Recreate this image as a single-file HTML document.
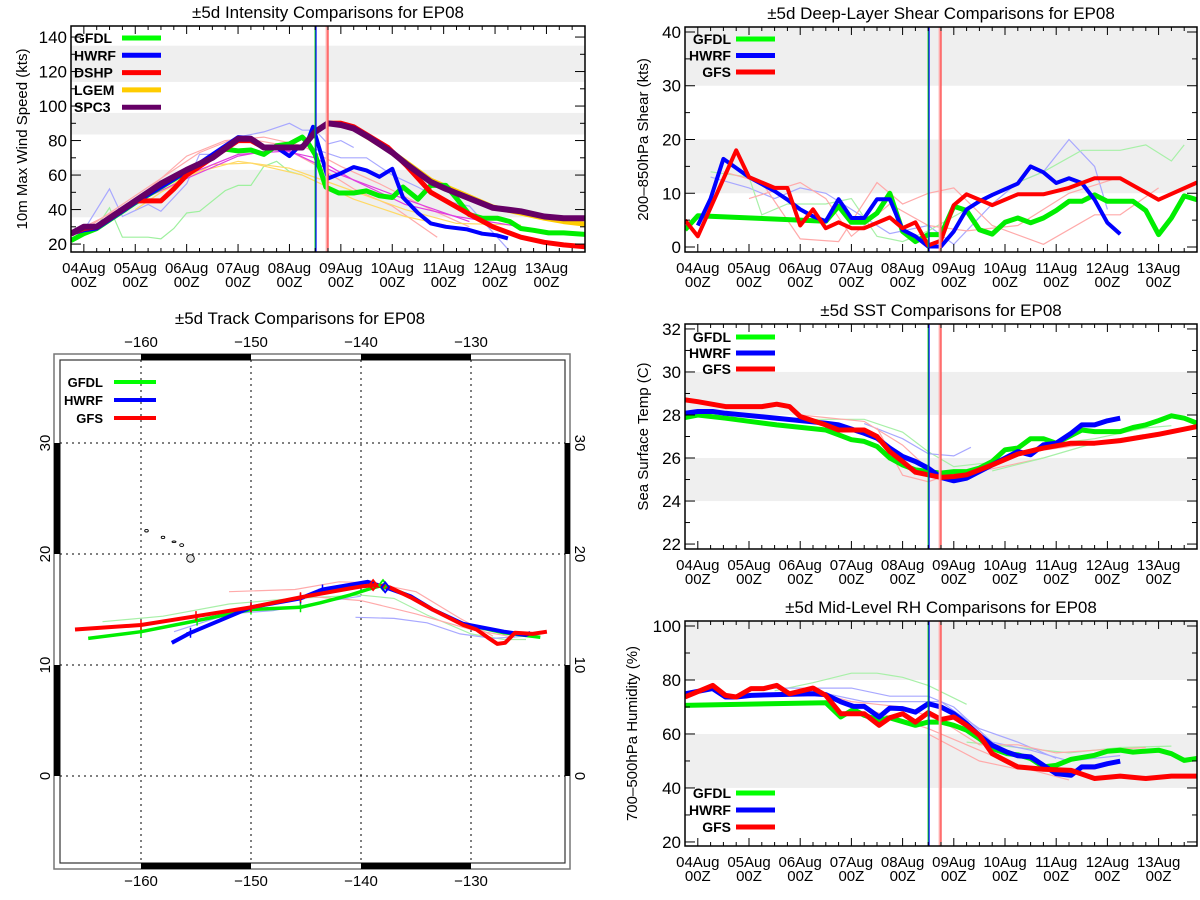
<!DOCTYPE html>
<html><head><meta charset="utf-8"><title>EP08 ±5d comparisons</title>
<style>
html,body{margin:0;padding:0;background:#fff;}
svg{display:block;font-family:"Liberation Sans",sans-serif;}
</style></head>
<body>
<svg id="fig" width="1200" height="900" viewBox="0 0 1200 900" xmlns="http://www.w3.org/2000/svg"></svg>
<script>
// ===== Intensity data (hours from 04Aug 00Z, knots) =====
const spc3Hours=[-6,0,6,24,36,48,60,72,78,84,90,102,108,114,120,126,133,144,151,162,169,179,191,204,215,224,234];
const spc3Vals=[26,30,30,45,55,63,70,81,81,76,76,76,85,90,89,87,82,73,66,56,52,47,41,39,36,35,35];
const dshpHours=[-6,0,6,24,30,36,42,48,60,72,78,84,90,102,108,114,120,126,142,151,162,179,191,204,215,224,234];
const dshpVals=[26,29,30,45,45,45,52,60,70,80,80,76,76,76,85,90,90,88,76,65,50,38,30,24,21,19.5,18.5];
const lgemHours=[108,114,120,126,144,151,162,179,191,204,215,224,234];
const lgemVals=[85,90,90,87,73,67,57,48,41.5,38,35,33,31.5];
const gfdlIntHours=[-6,0,6,24,48,66,72,78,84,90,96,102,105,108,113,119,126,132,138,144,149,156,162,169,175,180,186,193,199,204,210,217,224,234];
const gfdlIntVals=[22,26,29,44,62,75,74,74.5,72,77,78,82,78,72,53,49.6,49.6,50.8,48,47,53,46,54,54,45,37,35,35,33,29,28,26.5,26.5,25.6];
const hwrfIntHours=[-6,0,6,24,48,72,78,84,90,96,100,104,107,111,114,120,126,132,138,144,149,156,162,169,179,186,193,198];
const hwrfIntVals=[26,28,29,44,62,82,81.5,76,76,71,76,78,88,71,58,61,64.6,62.7,59,63.6,47,38,32,30,28.5,26,25,23.3];
const intFaint=[
 {c:"#9ef09e",h:[-6,6,12,18,30,36,42,48,54,66,72,78,84,90,96,102],v:[22,30,41,24,24,23,29,38,39,51,54,54,65,68,62,60]},
 {c:"#a8a8ff",h:[0,12,18,30,36,48,54,60,72,84,96,102,108,114,120,126],v:[28,52,36,43,39,55,72,72,82,85,90,86,86,78,80,76]},
 {c:"#a8a8ff",h:[108,120,132,144,156,168,180,198],v:[75,70,70,60,53,45,42,17]},
 {c:"#ffaaaa",h:[-6,24,48,66,84,102,120,138,162,180],v:[26,45,71,80,82,77,65,55,40,30]},
 {c:"#ffaaaa",h:[0,36,54,72,90,108,126,144,165],v:[28,58,73,82,78,66,52,42,24]},
 {c:"#ffd966",h:[24,48,72,96,114,132,150,174,204],v:[40,60,68,64,56,48,40,32,31]},
 {c:"#ffd966",h:[36,60,78,102,126,150,180],v:[50,66,67,60,46,36,28]},
 {c:"#e040e0",h:[24,48,72,90,108,126,150,174,204],v:[44,58,71,75,70,57,43,36,30]},
 {c:"#e040e0",h:[48,72,96,120,150,180],v:[60,72,74,60,46,33]}
];
// ===== Shear data (kts) =====
const gfsShearHours=[-6,0,18,24,36,42,48,54,60,66,72,78,90,96,102,108,114,120,126,138,150,162,174,186,198,216,234];
const gfsShearVals=[5,2,18,13,11,11,4,7,3.5,4.6,3.5,3.5,5.5,3.5,4.6,0.3,1.2,7.8,9.8,7.8,9.8,9.8,11,12.8,12.8,8.8,12];
const hwrfShearHours=[0,6,12,24,36,42,48,54,60,66,72,78,84,90,96,102,108,114,120,126,132,138,150,156,162,168,174,180,186,192,198];
const hwrfShearVals=[4,9,16.4,13,10.4,8.8,7,5.7,4.8,8.9,5.4,5.4,8.9,8.9,3.2,2,0.1,0.1,2.9,7,8.5,9.7,11.8,15,13.9,11.9,12.8,11.9,8.8,4.5,2.4];
const gfdlShearHours=[-6,0,60,66,72,78,84,90,96,102,108,114,120,126,132,138,144,150,156,162,168,174,180,186,192,204,210,216,222,228,234];
const gfdlShearVals=[3.2,5.8,4.8,7.6,4.6,4.6,6.3,10,2.9,1,2.3,2.3,7.6,6.8,3.2,2.4,4.6,5.4,4.5,5.4,6.8,8.5,8.5,9.7,8.5,8.5,6.8,2.3,5.4,9.5,8.8];
const shearFaint=[
 {c:"#a8a8ff",h:[6,24,36,48,60,72,90,108,120,138,150,162,174,186,192],v:[13,11,9,11,10,7,2.5,4,0.5,8,12,14,20,15,7]},
 {c:"#a8f0a8",h:[6,24,30,42,60,72,84,96,108,126,150,162,180,198,210,222,228],v:[14,13,6,8,8,9,2,1,3,7,12,14,18,18,19,16,19]},
 {c:"#ffaaaa",h:[12,30,48,66,84,96,108,120,138,162,186,198,216],v:[14,12,1.5,1,12,8,10,11,4,0.5,6,6,11]},
 {c:"#ffaaaa",h:[24,48,60,72,90,108,126,150,174,198],v:[9,12,9,2,8,4,3,4,10,13]}
];
// ===== SST data (C) =====
const gfsSstHours=[-6,0,13,30,37,43,48,54,60,66,78,84,90,96,102,108,114,120,126,138,150,162,175,186,198,216,234];
const gfsSstVals=[28.7,28.62,28.39,28.39,28.5,28.39,27.93,27.73,27.54,27.3,27.3,27,26.3,25.84,25.34,25.22,25.1,25.14,25.22,25.68,26.18,26.46,26.69,26.69,26.81,27.1,27.46];
const hwrfSstHours=[-6,0,7,13,37,60,66,78,84,90,96,102,108,114,120,126,138,150,156,162,168,175,180,186,192,198];
const hwrfSstVals=[28.08,28.16,28.16,28.08,27.85,27.62,27.54,27.15,26.92,26.46,26.07,25.84,25.53,25.1,24.94,25.06,25.68,26.3,26.15,26.61,26.69,27.15,27.54,27.54,27.73,27.85];
const gfdlSstHours=[-6,0,13,37,60,66,72,78,84,90,96,102,108,114,120,126,132,138,144,150,156,162,168,180,186,198,204,210,216,222,228,234];
const gfdlSstVals=[27.88,28,27.85,27.54,27.3,27.08,26.85,26.77,26.54,26,25.68,25.45,25.37,25.3,25.37,25.37,25.53,25.84,26.38,26.46,26.9,26.9,26.69,27.3,27.23,27.23,27.42,27.54,27.74,27.96,27.85,27.62];
const sstFaint=[
 {c:"#a8f0a8",h:[54,78,96,108,120,138,162,186,210,222],v:[27.8,27.8,27.2,26.3,25.6,25.8,26.6,26.9,27.4,27.5]},
 {c:"#a8a8ff",h:[78,96,108,120,128],v:[27.6,26.9,26.2,26.1,26.5]},
 {c:"#ffaaaa",h:[84,96,108,120,138,162],v:[27.4,25.2,24.9,25.3,25.5,26]},
 {c:"#ffaaaa",h:[48,78,96,108,120,150,186,216],v:[28,27.7,26.6,25.5,25.2,26.2,26.7,27.2]},
 {c:"#a8f0a8",h:[138,162,186],v:[25.4,26,26.7]}
];
// ===== RH data (%) =====
const gfsRhHours=[-6,7,13,18,25,31,37,43,54,60,67,73,78,85,90,96,102,108,114,120,126,132,138,144,150,162,175,186,198,210,222,234];
const gfsRhVals=[73.7,78,74.3,73.7,76.8,76.8,78,74.9,77,74.3,67.5,67.5,67.5,63.2,66,67.5,64.4,67.9,65.4,66.3,63.2,59.5,52.7,50.2,47.8,46.9,46.5,43.5,44.4,43.5,44.4,44.4];
const hwrfRhHours=[-6,7,13,18,25,37,54,60,67,73,78,85,90,96,102,108,114,120,126,132,138,145,150,156,162,168,175,180,186,192,198];
const hwrfRhVals=[74.9,76.8,73.7,73.7,74.3,74.6,74.9,74.6,71.9,70.2,70.2,66.3,69.6,69.4,68.1,71.2,70,67.5,63.8,59.5,55.8,53.3,51.9,51.5,48.4,45.3,44.7,47.8,47.8,49,49.9];
const gfdlRhHours=[-6,60,67,73,78,85,90,102,108,114,120,126,132,138,145,150,156,162,168,175,186,192,198,204,216,222,228,234];
const gfdlRhVals=[70.6,71.6,66.3,69.1,66.9,65.1,66,63.2,64.4,64.4,63.2,61.4,58.3,54.6,52.7,52.3,50.9,47.8,48.4,50.6,52.1,53.6,54,53.3,54,52.7,50.2,50.9];
const rhFaint=[
 {c:"#a8f0a8",h:[36,54,72,84,96,108,126],v:[76,79,82.5,82.5,81,78,71]},
 {c:"#a8f0a8",h:[126,150,174,198,222],v:[57,55,53,55,55.5]},
 {c:"#a8a8ff",h:[36,60,72,90,108,120,138,156,174,198],v:[77,77,77,74,74,70,57,54,50,52]},
 {c:"#a8a8ff",h:[54,78,96,114,132,150,168],v:[76,72,72,72,62,57,51]},
 {c:"#ffaaaa",h:[48,72,96,114,132,150,168,186,210],v:[77,72,70,65,56,56,53,54,55]},
 {c:"#ffaaaa",h:[60,84,108,126,150,174],v:[74,68,62,56,48,43]},
 {c:"#ffaaaa",h:[108,132,150,174,186],v:[60,50,47,47,47]}
];
// ===== Track data (lon, lat) =====
const gfsTrackLon=[-166,-160,-155,-150,-145.5,-141,-139.8,-138.8,-137.4,-135.5,-133.5,-130.7,-129.5,-128.5,-127.6,-126.9,-126,-124.4,-123.1];
const gfsTrackLat=[13.2,13.6,14.4,15.2,16.1,16.9,17.1,17.2,17,16.1,15,13.6,13.2,12.5,11.9,12,12.9,12.8,13];
const hwrfTrackLon=[-157.2,-155.5,-150,-145.5,-143.5,-139.4,-137.8,-135.5,-133.5,-130.7,-127,-125,-124.6];
const hwrfTrackLat=[12,12.9,15.2,16,16.8,17.5,17,16.2,15,13.7,13,12.7,12.9];
const gfdlTrackLon=[-164.8,-160,-154.9,-150,-145.5,-143.7,-141,-139.4,-138,-135.5,-133.5,-130.7,-127,-123.7];
const gfdlTrackLat=[12.4,13,14,15,15.2,15.6,16.3,16.8,17.2,16.2,15,13.7,12.9,12.5];
const trackFaint=[
 {c:"#a8f0a8",lon:[-163.5,-158,-152,-146,-140,-137,-134,-130,-127,-125],lat:[13.9,14.4,15.5,16,16.3,16,14.5,12.8,12.3,12.3]},
 {c:"#ffaaaa",lon:[-152,-146,-142,-139,-135,-131,-128],lat:[16.6,16.8,17.5,17.4,16.6,14.2,12.6]},
 {c:"#ffaaaa",lon:[-145,-140,-135,-130,-126],lat:[16.2,15.8,14.6,13.2,12.5]},
 {c:"#a8a8ff",lon:[-140.5,-137,-134,-131,-128,-125],lat:[14.3,14.2,13.8,12.8,12.4,12.6]},
 {c:"#a8a8ff",lon:[-157,-152,-148,-144,-140],lat:[13,14.6,14.9,15.6,16.2]}
];

const NS="http://www.w3.org/2000/svg";
const fig=document.getElementById('fig');
function mk(tag,attrs,parent){const e=document.createElementNS(NS,tag);for(const k in attrs)e.setAttribute(k,attrs[k]);(parent||fig).appendChild(e);return e;}
function txt(s,x,y,size,anchor,parent,extra){const t=mk('text',Object.assign({x:x,y:y,'font-size':size,'text-anchor':anchor||'middle',fill:'#000'},extra||{}),parent);t.textContent=s;return t;}

function seriesPath(hs,vs,X,Y){let d='';for(let i=0;i<hs.length;i++){d+=(i?'L':'M')+X(hs[i]).toFixed(1)+' '+Y(vs[i]).toFixed(1);}return d;}

function panel(cfg){
  const g=mk('g',{});
  
  
  const L=cfg.L,R=cfg.R,T=cfg.T,B=cfg.B;
  const X=h=>L+(h+6)/240*(R-L);
  const Y=v=>B-(v-cfg.vmin)/(cfg.vmax-cfg.vmin)*(B-T);
  const clip=mk('clipPath',{id:'clip-'+cfg.name},g);
  mk('rect',{x:L,y:T,width:R-L,height:B-T},clip);
  for(const b of cfg.bands){
    const r=mk('rect',{x:L,y:Y(b[1]),width:R-L,height:Y(b[0])-Y(b[1]),fill:'#efefef'},g);
    
    
  }
  const data=mk('g',{'clip-path':'url(#clip-'+cfg.name+')'},g);
  for(const f of cfg.faint){
    const p=mk('path',{d:seriesPath(f.h,f.v,X,Y),fill:'none',stroke:f.c,'stroke-width':1.2},data);
    
    
  }
  for(const s of cfg.series){
    const p=mk('path',{d:seriesPath(s.h,s.v,X,Y),fill:'none',stroke:s.c,'stroke-width':s.w,'stroke-linejoin':'round'},data);
    
    
  }
  // init-time lines
  const vl=[[108,'#00dd00',1.2],[108.4,'#0000ff',1.2],[113.6,'#ffaaaa',3],[114,'#ff3030',1]];
  for(const v of vl){
    const l=mk('line',{x1:X(v[0]),x2:X(v[0]),y1:T,y2:B,stroke:v[1],'stroke-width':v[2]},g);
    
    
  }
  // frame
  const fr=mk('rect',{x:L,y:T,width:R-L,height:B-T,fill:'none',stroke:'#000','stroke-width':1.5},g);
  
  
  // x ticks
  const days=['04Aug','05Aug','06Aug','07Aug','08Aug','09Aug','10Aug','11Aug','12Aug','13Aug'];
  for(let h=-6;h<=234;h+=6){
    const major=(h%24===0);const len=major?8:4;
    mk('line',{x1:X(h),x2:X(h),y1:B,y2:B-len,stroke:'#000','stroke-width':1},g);
    mk('line',{x1:X(h),x2:X(h),y1:T,y2:T+len,stroke:'#000','stroke-width':1},g);
  }
  for(let i=0;i<days.length;i++){
    const t1=txt(days[i],X(i*24),B+21,15,'middle',g);
    
    
    const t2=txt('00Z',X(i*24),B+35,15,'middle',g);
    
    
  }
  // y ticks
  for(let v=cfg.minorStart;v<=cfg.vmax+1e-6;v+=cfg.minor){
    if(v<cfg.vmin)continue;
    const isMaj=Math.abs((v-cfg.majorStart)/cfg.major-Math.round((v-cfg.majorStart)/cfg.major))<1e-6;
    const len=isMaj?10:5;
    mk('line',{x1:L,x2:L+len,y1:Y(v),y2:Y(v),stroke:'#000','stroke-width':1},g);
    mk('line',{x1:R,x2:R-len,y1:Y(v),y2:Y(v),stroke:'#000','stroke-width':1},g);
  }
  for(let v=cfg.majorStart;v<=cfg.vmax+1e-6;v+=cfg.major){
    const t=txt(String(v),L-4,Y(v)+6,17,'end',g);
    
    
  }
  const yt=txt(cfg.ytitle,0,0,15,'middle',g,{transform:'translate('+cfg.ytx+','+((T+B)/2)+') rotate(-90)'});
  
  
  const tt=txt(cfg.title,(L+R)/2,T-8,17,'middle',g);
  
  
  // legend
  const lg=mk('g',{},g);
  
  
  cfg.legend.forEach((e,i)=>{
    const y=cfg.legY+i*cfg.legDy;
    const t=txt(e[0],cfg.legTx,y+5,14,cfg.legAnchor,lg,{'font-weight':'bold'});
    
    
    const l=mk('line',{x1:cfg.legX1,x2:cfg.legX2,y1:y,y2:y,stroke:e[1],'stroke-width':5},lg);
    
    
  });
}

panel({name:'intensity-panel',L:71,R:585,T:26,B:252,vmin:15.4,vmax:146.4,bands:[[35.5,63],[83.5,96],[114,135]],
 faint:intFaint,
 series:[{id:'lgem',c:'#ffcc00',w:5,h:lgemHours,v:lgemVals},{id:'gfdl',c:'#00ee00',w:5,h:gfdlIntHours,v:gfdlIntVals},{id:'hwrf',c:'#0000ff',w:4,h:hwrfIntHours,v:hwrfIntVals},{id:'dshp',c:'#ff0000',w:5,h:dshpHours,v:dshpVals},{id:'spc3',c:'#660066',w:6,h:spc3Hours,v:spc3Vals}],
 minor:10,minorStart:20,major:20,majorStart:20,ytitle:'10m Max Wind Speed (kts)',ytx:27,title:'±5d Intensity Comparisons for EP08',
 legend:[['GFDL','#00ff00'],['HWRF','#0000ff'],['DSHP','#ff0000'],['LGEM','#ffcc00'],['SPC3','#660066']],legY:38,legDy:17.3,legTx:74,legAnchor:'start',legX1:122,legX2:161});

panel({name:'shear-panel',L:685,R:1197,T:27,B:252,vmin:-0.93,vmax:40.93,bands:[[10,20],[30,41]],
 faint:shearFaint,
 series:[{id:'gfdl',c:'#00ee00',w:5,h:gfdlShearHours,v:gfdlShearVals},{id:'hwrf',c:'#0000ff',w:4,h:hwrfShearHours,v:hwrfShearVals},{id:'gfs',c:'#ff0000',w:4,h:gfsShearHours,v:gfsShearVals}],
 minor:5,minorStart:0,major:10,majorStart:0,ytitle:'200–850hPa Shear (kts)',ytx:648,title:'±5d Deep-Layer Shear Comparisons for EP08',
 legend:[['GFDL','#00ff00'],['HWRF','#0000ff'],['GFS','#ff0000']],legY:39,legDy:16.5,legTx:731,legAnchor:'end',legX1:736,legX2:775});

panel({name:'sst-panel',L:685,R:1197,T:324,B:549,vmin:21.77,vmax:32.23,bands:[[24,26],[28,30]],
 faint:sstFaint,
 series:[{id:'gfdl',c:'#00ee00',w:5,h:gfdlSstHours,v:gfdlSstVals},{id:'hwrf',c:'#0000ff',w:5,h:hwrfSstHours,v:hwrfSstVals},{id:'gfs',c:'#ff0000',w:5,h:gfsSstHours,v:gfsSstVals}],
 minor:1,minorStart:22,major:2,majorStart:22,ytitle:'Sea Surface Temp (C)',ytx:648,title:'±5d SST Comparisons for EP08',
 legend:[['GFDL','#00ff00'],['HWRF','#0000ff'],['GFS','#ff0000']],legY:337,legDy:16,legTx:731,legAnchor:'end',legX1:736,legX2:775});

panel({name:'rh-panel',L:685,R:1197,T:621,B:846,vmin:18.5,vmax:101.85,bands:[[40,60],[80,102]],
 faint:rhFaint,
 series:[{id:'gfdl',c:'#00ee00',w:5,h:gfdlRhHours,v:gfdlRhVals},{id:'hwrf',c:'#0000ff',w:5,h:hwrfRhHours,v:hwrfRhVals},{id:'gfs',c:'#ff0000',w:5,h:gfsRhHours,v:gfsRhVals}],
 minor:10,minorStart:20,major:20,majorStart:20,ytitle:'700–500hPa Humidity (%)',ytx:637,title:'±5d Mid-Level RH Comparisons for EP08',
 legend:[['GFDL','#00ff00'],['HWRF','#0000ff'],['GFS','#ff0000']],legY:793,legDy:17,legTx:731,legAnchor:'end',legX1:736,legX2:775});

// ===== Track map =====
(function(){
  const g=mk('g',{});
  
  
  const LX=lon=>141+(lon+160)*11.0;
  const LY=lat=>776-lat*11.1;
  const OL=54,OR=570,OT=354,OB=869,IL=60,IR=565,IT=360,IB=863;
  mk('rect',{x:OL,y:OT,width:OR-OL,height:OB-OT,fill:'#fff',stroke:'#777','stroke-width':1.5},g);
  mk('rect',{x:IL,y:IT,width:IR-IL,height:IB-IT,fill:'#fff',stroke:'#333','stroke-width':1.2},g);
  // black border segments
  for(const lon of [-160,-140]){
    mk('rect',{x:LX(lon),y:OT,width:110,height:IT-OT,fill:'#000'},g);
    mk('rect',{x:LX(lon),y:IB,width:110,height:OB-IB,fill:'#000'},g);
  }
  for(const lat of [0,20]){
    mk('rect',{x:OL,y:LY(lat+10),width:IL-OL,height:111,fill:'#000'},g);
    mk('rect',{x:IR,y:LY(lat+10),width:OR-IR,height:111,fill:'#000'},g);
  }
  const tt=txt('±5d Track Comparisons for EP08',300,324,17,'middle',g);
  
  
  // grid
  for(const lon of [-160,-150,-140,-130]){
    const l=mk('line',{x1:LX(lon),x2:LX(lon),y1:IT,y2:IB,stroke:'#000','stroke-width':1,'stroke-dasharray':'2,4'},g);
    
    
    const a=txt(String(lon).replace('-','−'),LX(lon),347,15,'middle',g);
    
    
    const b=txt(String(lon).replace('-','−'),LX(lon),886,15,'middle',g);
    
    
  }
  for(const lat of [0,10,20,30]){
    const l=mk('line',{x1:IL,x2:IR,y1:LY(lat),y2:LY(lat),stroke:'#000','stroke-width':1,'stroke-dasharray':'2,4'},g);
    
    
    const a=txt(String(lat),0,0,15,'middle',g,{transform:'translate(50,'+LY(lat)+') rotate(-90)'});
    
    
    const b=txt(String(lat),0,0,15,'middle',g,{transform:'translate(575,'+LY(lat)+') rotate(90)'});
    
    
  }
  // Hawaii
  const isl=[[-159.5,22.1,1.8,1.3],[-158,21.5,1.8,1.2],[-157,21.1,2,0.8],[-156.3,20.8,2,1.4],[-155.5,19.6,3.8,3.8]];
  for(const s of isl){
    const e=mk('ellipse',{cx:LX(s[0]),cy:LY(s[1]),rx:s[2],ry:s[3],fill:s[2]>3?'#e6e6e6':'#fff',stroke:'#000','stroke-width':0.9},g);
    
    
  }
  const trk=mk('g',{},g);
  for(const f of trackFaint){
    let d='';for(let i=0;i<f.lon.length;i++)d+=(i?'L':'M')+LX(f.lon[i]).toFixed(1)+' '+LY(f.lat[i]).toFixed(1);
    const p=mk('path',{d:d,fill:'none',stroke:f.c,'stroke-width':1.2},trk);
    
    
  }
  const tr=[['gfdl','#00ee00',3.5,gfdlTrackLon,gfdlTrackLat],['hwrf','#0000ff',4,hwrfTrackLon,hwrfTrackLat],['gfs','#ff0000',4,gfsTrackLon,gfsTrackLat]];
  for(const t of tr){
    let d='';for(let i=0;i<t[3].length;i++)d+=(i?'L':'M')+LX(t[3][i]).toFixed(1)+' '+LY(t[4][i]).toFixed(1);
    const p=mk('path',{d:d,fill:'none',stroke:t[1],'stroke-width':t[2],'stroke-linejoin':'round'},trk);
    
    
    for(let i=1;i<5&&i<t[3].length;i++){
      const x=LX(t[3][i]),y=LY(t[4][i]);
      const m=mk('path',{d:'M'+(x-4)+' '+y+'L'+(x+4)+' '+y+'M'+x+' '+(y-5)+'L'+x+' '+(y+5),stroke:t[1],'stroke-width':1.5},trk);
      
      
    }
  }
  const dm=[[-138,17.2,'#00ee00'],[-137.8,17.0,'#0000ff'],[-138.9,17.2,'#ff0000']];
  for(const q of dm){
    const x=LX(q[0]),y=LY(q[1]);
    const m=mk('path',{d:'M'+x+' '+(y-5)+'L'+(x+4)+' '+y+'L'+x+' '+(y+5)+'L'+(x-4)+' '+y+'Z',fill:'none',stroke:q[2],'stroke-width':1.8},trk);
    
    
  }
  const lg=mk('g',{},g);
  
  
  [['GFDL','#00ff00'],['HWRF','#0000ff'],['GFS','#ff0000']].forEach((e,i)=>{
    const y=382+i*18;
    const t=txt(e[0],103,y+5,13,'end',lg,{'font-weight':'bold'});
    
    
    const l=mk('line',{x1:114,x2:156,y1:y,y2:y,stroke:e[1],'stroke-width':4},lg);
    
    
  });
})();
</script>
</body></html>
